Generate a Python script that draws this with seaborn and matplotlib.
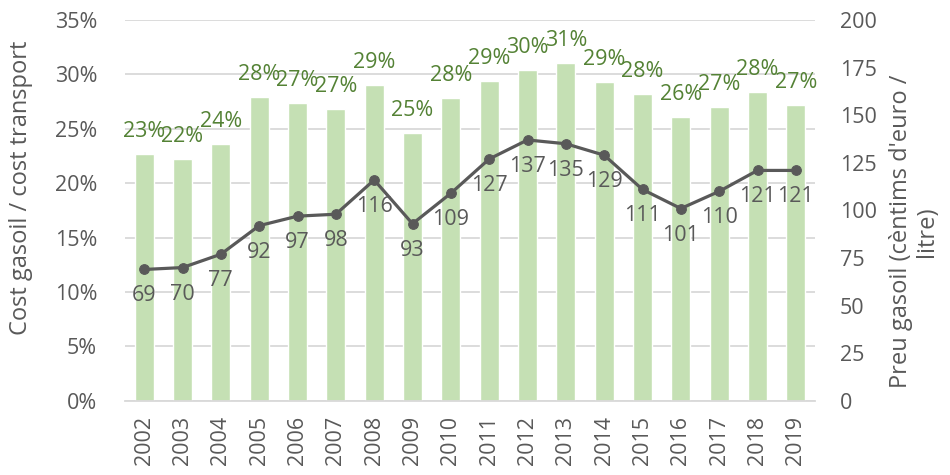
import numpy as np
import pandas as pd
import matplotlib
matplotlib.use("Agg")
import matplotlib.pyplot as plt
import seaborn as sns

years = [str(y) for y in range(2002, 2020)]
cost_share = [22.7, 22.2, 23.6, 27.9, 27.35, 26.8, 29.0, 24.6, 27.8, 29.4,
              30.4, 31.0, 29.3, 28.2, 26.1, 27.0, 28.4, 27.2]
diesel_price = [69, 70, 77, 92, 97, 98, 116, 93, 109, 127, 137, 135, 129,
                111, 101, 110, 121, 121]
left_ticks = [0, 5, 10, 15, 20, 25, 30, 35]
right_ticks = [0, 25, 50, 75, 100, 125, 150, 175, 200]

sns.set_theme(style="white")
plt.rcParams['font.family'] = ['Open Sans', 'DejaVu Sans']

GRAY = "#595959"
GREEN = "#548235"
BAR = "#c5e0b4"
GRID = "#d9d9d9"
FS = 15.5
LFS = 17

df = pd.DataFrame({"year": years, "share": cost_share, "price": diesel_price})

fig = plt.figure(figsize=(9.5, 4.75), dpi=100)
ax = fig.add_axes([0.1316, 0.156, 0.7263, 0.802])

sns.barplot(data=df, x="year", y="share", color=BAR, saturation=1,
            width=0.5, ax=ax, zorder=2)
ax.set_ylim(0, 35)
ax.set_xlim(-0.5, len(years) - 0.5)
ax.set_yticks(left_ticks)
ax.set_yticklabels([f"{t}%" for t in left_ticks])
ax.yaxis.grid(True, color=GRID, linewidth=1.3, zorder=0)
ax.set_axisbelow(True)
for s in ["left", "right", "top"]:
    ax.spines[s].set_visible(False)
ax.spines["bottom"].set_color(GRID)
ax.spines["bottom"].set_linewidth(1.3)
ax.tick_params(axis="y", length=0, pad=20, labelsize=FS, labelcolor=GRAY)
ax.tick_params(axis="x", which="major", length=0, pad=11, labelsize=FS,
               labelcolor=GRAY, labelrotation=90)
ax.set_xticks(np.arange(-0.5, len(years), 1), minor=True)
ax.tick_params(axis="x", which="minor", length=5, width=1.3, color=GRID,
               direction="out")
ax.set_xlabel("")
ax.set_ylabel("Cost gasoil / cost transport", color=GRAY, fontsize=LFS)
ax.yaxis.set_label_coords(-0.133, 0.56)

for i, v in enumerate(cost_share):
    ax.annotate(f"{v:.0f}%", xy=(i, v), xytext=(0, 12), textcoords="offset pixels",
                ha="center", va="bottom", color=GREEN, fontsize=FS, zorder=5)

ax2 = ax.twinx()
sns.lineplot(data=df, x="year", y="price", color=GRAY, linewidth=2.3,
             marker="o", markersize=7, markeredgecolor=GRAY, ax=ax2, zorder=4)
ax2.set_ylim(0, 200)
ax2.set_yticks(right_ticks)
for s in ["left", "right", "top", "bottom"]:
    ax2.spines[s].set_visible(False)
ax2.tick_params(axis="y", length=0, pad=18, labelsize=FS, labelcolor=GRAY)
ax2.set_ylabel("Preu gasoil (cèntims d'euro /\nlitre)", color=GRAY, fontsize=LFS,
               multialignment="center", rotation=90, linespacing=1.1)
ax2.yaxis.set_label_coords(1.107, 0.444)
ax2.grid(False)

for i, v in enumerate(diesel_price):
    ax2.annotate(f"{v}", xy=(i, v), xytext=(0, -16), textcoords="offset pixels",
                 ha="center", va="top", color=GRAY, fontsize=FS, zorder=5)

fig.savefig("out.png", dpi=100)
